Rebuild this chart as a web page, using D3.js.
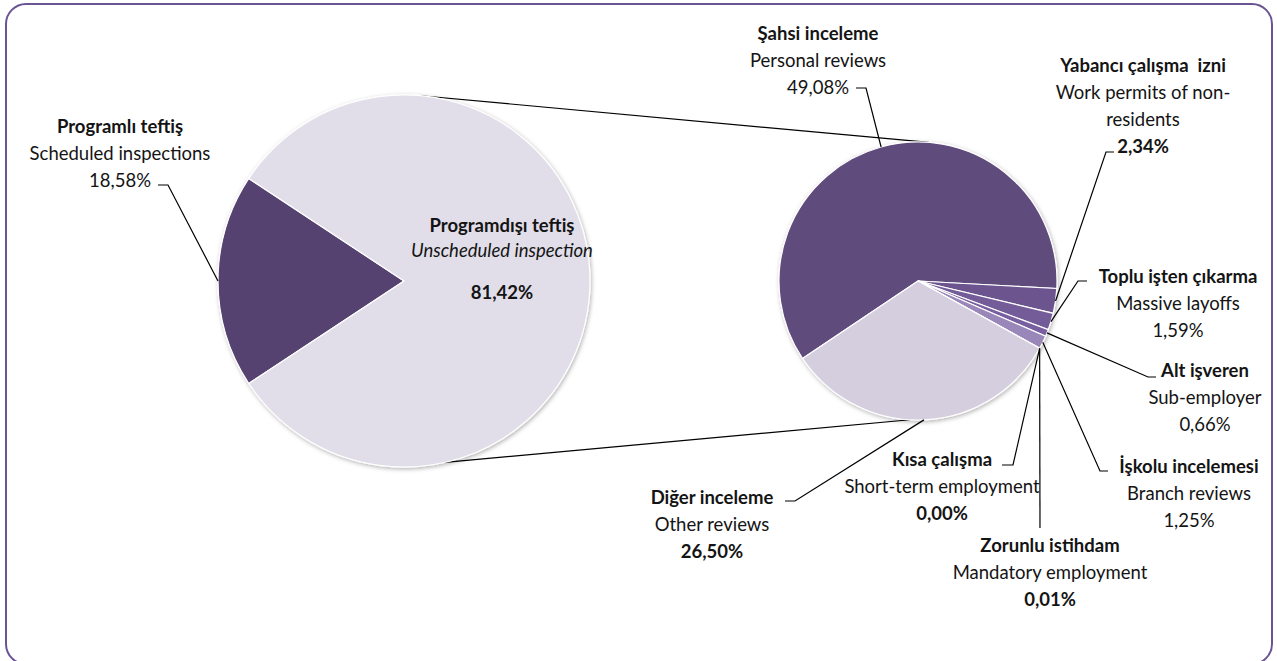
<!DOCTYPE html>
<html>
<head>
<meta charset="utf-8">
<script src="https://cdn.jsdelivr.net/npm/d3@7"></script>
<style>
  body { margin: 0; background: #fff; }
  text { font-family: Lato, "Open Sans", sans-serif; font-size: 18.5px; fill: #141414; white-space: pre; }
</style>
</head>
<body>
<svg id="chart"></svg>
<script>
// first pie: scheduled vs unscheduled
const mainNames = ["Programlı teftiş", "Programdışı teftiş"];
const mainNamesEn = ["Scheduled inspections", "Unscheduled inspection"];
const mainValues = [18.58, 81.42];

// second pie: breakdown of unscheduled inspections (share of total)
const subNames = ["Şahsi inceleme", "Yabancı çalışma  izni", "Toplu işten çıkarma", "Alt işveren",
    "İşkolu incelemesi", "Zorunlu istihdam", "Kısa çalışma", "Diğer inceleme"];
const subNamesEn = ["Personal reviews", "Work permits of non-\nresidents", "Massive layoffs", "Sub-employer",
    "Branch reviews", "Mandatory employment", "Short-term employment", "Other reviews"];
const subValues = [49.08, 2.34, 1.59, 0.66, 1.25, 0.01, 0.00, 26.50];

const W = 1277, H = 661;
const rad = deg => deg * Math.PI / 180;
const pct = v => d3.format(".2f")(v).replace(".", ",") + "%";

const mainColors = ["#554270", "#e1dee9"];
const subColors = ["#614b7d", "#6c558f", "#735b98", "#7860a0", "#9987b9", "#b3a6cc", "#b3a6cc", "#d4cede"];

// label layout: text centre, first line y, leader elbow + tail, which lines are bold
const subLayout = [
    { x: 818, y: 33, elbow: [866, 88], tail: [856, 88], boldPct: false },
    { x: 1143, y: 65, elbow: [1106, 152], tail: [1114, 152], boldPct: true },
    { x: 1178, y: 276, elbow: [1078, 281], tail: [1087, 281], boldPct: false },
    { x: 1205, y: 370, elbow: [1148, 377], tail: [1156, 377], boldPct: false },
    { x: 1189, y: 466, elbow: [1100, 471], tail: [1108, 471], boldPct: false },
    { x: 1050, y: 545, elbow: [1040, 528], tail: null, boldPct: true },
    { x: 942, y: 459, elbow: [1013, 465], tail: [1002, 465], boldPct: true },
    { x: 712, y: 497, elbow: [795, 501], tail: [785, 501], boldPct: true }
];

const svg = d3.select("#chart").attr("width", W).attr("height", H);

const defs = svg.append("defs");
defs.append("filter").attr("id", "shadow")
    .attr("x", "-10%").attr("y", "-10%").attr("width", "120%").attr("height", "120%")
    .append("feDropShadow")
    .attr("dx", 1).attr("dy", 1.5).attr("stdDeviation", 2)
    .attr("flood-color", "#000").attr("flood-opacity", 0.3);

// frame
svg.append("rect")
    .attr("x", 6).attr("y", 4).attr("width", 1266).attr("height", 660)
    .attr("rx", 20).attr("ry", 20)
    .attr("fill", "#fff").attr("stroke", "#6a5494").attr("stroke-width", 2);

const main = { cx: 404, cy: 281, r: 186 };
const sub = { cx: 918, cy: 281, r: 139 };

function onCircle(c, angleDeg) {
    const a = rad(angleDeg);
    return [c.cx + c.r * Math.sin(a), c.cy - c.r * Math.cos(a)];
}

// connector lines between the pies
const connectors = [[5.2, 4.5], [167.3, 183.3]];
svg.append("g").selectAll("line").data(connectors).join("line")
    .attr("x1", d => onCircle(main, d[0])[0]).attr("y1", d => onCircle(main, d[0])[1])
    .attr("x2", d => onCircle(sub, d[1])[0]).attr("y2", d => onCircle(sub, d[1])[1])
    .attr("stroke", "#000").attr("stroke-width", 1.2);

// main pie
const mainStart = 270 - mainValues[0] / 100 * 180;
const mainPie = d3.pie().sort(null)
    .startAngle(rad(mainStart)).endAngle(rad(mainStart + 360));
const mainArcs = mainPie(mainValues);
const mainArc = d3.arc().innerRadius(0).outerRadius(main.r);

svg.append("g")
    .attr("transform", "translate(" + main.cx + "," + main.cy + ")")
    .attr("filter", "url(#shadow)")
    .selectAll("path").data(mainArcs).join("path")
    .attr("d", mainArc)
    .attr("fill", (d, i) => mainColors[i])
    .attr("stroke", "#fff").attr("stroke-width", 1.2);

// second pie
const subTotal = d3.sum(subValues);
const subStart = 93.1 - subValues[0] / subTotal * 360;
const subPie = d3.pie().sort(null)
    .startAngle(rad(subStart)).endAngle(rad(subStart + 360));
const subArcs = subPie(subValues);
const subArc = d3.arc().innerRadius(0).outerRadius(sub.r);

svg.append("g")
    .attr("transform", "translate(" + sub.cx + "," + sub.cy + ")")
    .attr("filter", "url(#shadow)")
    .selectAll("path").data(subArcs).join("path")
    .attr("d", subArc)
    .attr("fill", (d, i) => subColors[i])
    .attr("stroke", "#fff").attr("stroke-width", 1.2);

// leader lines
function leader(c, d, lay) {
    const mid = (d.startAngle + d.endAngle) / 2 * 180 / Math.PI;
    const pts = [onCircle(c, mid), lay.elbow];
    if (lay.tail) pts.push(lay.tail);
    svg.append("path")
        .attr("d", d3.line()(pts))
        .attr("fill", "none").attr("stroke", "#000").attr("stroke-width", 1.2);
}

function label(x, y, lines) {
    const t = svg.append("text").attr("text-anchor", "middle");
    lines.forEach((ln, i) => {
        t.append("tspan")
            .attr("x", x).attr("y", y + (ln.dy !== undefined ? ln.dy : i * 27))
            .attr("dominant-baseline", "central")
            .attr("font-weight", ln.bold ? "bold" : null)
            .attr("font-style", ln.italic ? "italic" : null)
            .text(ln.text);
    });
}

subArcs.forEach((d, i) => {
    const lay = subLayout[i];
    leader(sub, d, lay);
    const lines = [{ text: subNames[i], bold: true }];
    subNamesEn[i].split("\n").forEach(s => lines.push({ text: s }));
    lines.push({ text: pct(subValues[i]), bold: lay.boldPct });
    label(lay.x, lay.y, lines);
});

// first pie labels
leader(main, mainArcs[0], { elbow: [168, 185], tail: [158, 185] });
label(120, 126, [
    { text: mainNames[0], bold: true },
    { text: mainNamesEn[0] },
    { text: pct(mainValues[0]) }
]);
label(502, 225, [
    { text: mainNames[1], bold: true },
    { text: mainNamesEn[1], italic: true, dy: 25 },
    { text: pct(mainValues[1]), bold: true, dy: 67 }
]);
</script>
</body>
</html>
